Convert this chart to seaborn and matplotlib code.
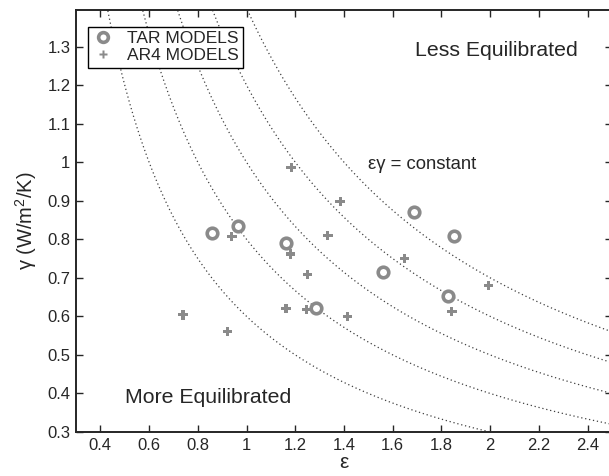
import numpy as np
import pandas as pd
import matplotlib
matplotlib.use('Agg')
import matplotlib.pyplot as plt
from matplotlib.lines import Line2D
from matplotlib.ticker import FuncFormatter, MultipleLocator
import seaborn as sns

# data
tar_eps = [0.857, 0.965, 1.161, 1.286, 1.561, 1.688, 1.850, 1.828]
tar_gam = [0.816, 0.834, 0.791, 0.622, 0.715, 0.872, 0.809, 0.653]
ar4_eps = [0.739, 0.923, 0.940, 1.162, 1.180, 1.183, 1.247, 1.249, 1.334, 1.384, 1.413, 1.648, 1.843, 1.992]
ar4_gam = [0.604, 0.561, 0.807, 0.620, 0.762, 0.987, 0.618, 0.709, 0.809, 0.898, 0.600, 0.750, 0.613, 0.681]
constants = [0.6, 0.8, 1.0, 1.2, 1.4]

sns.set_style('ticks')
plt.rcParams['font.family'] = ['Liberation Sans', 'DejaVu Sans']
plt.rcParams['mathtext.default'] = 'regular'

fig = plt.figure(figsize=(6.09, 4.76), dpi=100)
ax = fig.add_axes([76/609, 44/476, 536/609, 422/476])

grey = '#8a8a8a'
# constant eps*gamma curves
for c in constants:
    xs = np.linspace(0.3, 2.5, 300)
    ax.plot(xs, c / xs, ls=(0, (1, 2.2)), color='0.25', lw=0.9, zorder=1)

tar = pd.DataFrame({'eps': tar_eps, 'gam': tar_gam})
ar4 = pd.DataFrame({'eps': ar4_eps, 'gam': ar4_gam})
sns.scatterplot(data=ar4, x='eps', y='gam', marker='P', s=45, color=grey,
                edgecolor='none', ax=ax, zorder=3)
sns.scatterplot(data=tar, x='eps', y='gam', marker='o', s=58, facecolor='white',
                edgecolor=grey, linewidth=2.6, ax=ax, zorder=4)

ax.set_xlim(0.3, 2.5)
ax.set_ylim(0.3, 1.395)
ax.xaxis.set_major_locator(MultipleLocator(0.2))
ax.yaxis.set_major_locator(MultipleLocator(0.1))
fmt = FuncFormatter(lambda v, p: '%g' % round(v, 3))
ax.xaxis.set_major_formatter(fmt)
ax.yaxis.set_major_formatter(fmt)
ax.tick_params(direction='in', length=5, width=1, labelsize=12, pad=4,
               top=True, right=True)
for sp in ax.spines.values():
    sp.set_linewidth(1.4)

ax.set_xlabel('ε', fontsize=15, labelpad=0)
ax.set_ylabel('γ (W/m$^2$/K)', fontsize=14.5, labelpad=6)

ax.text(1.69, 1.29, 'Less Equilibrated', fontsize=15.3, va='center', ha='left')
ax.text(0.50, 0.39, 'More Equilibrated', fontsize=15.3, va='center', ha='left')
ax.text(1.50, 0.993, 'εγ = constant', fontsize=13.3, va='center', ha='left')

handles = [
    Line2D([], [], ls='none', marker='o', ms=7, mfc='white', mec=grey, mew=2.6),
    Line2D([], [], ls='none', marker='P', ms=6, mfc=grey, mec='none'),
]
leg = ax.legend(handles, ['TAR MODELS', 'AR4 MODELS'], loc='upper left',
                bbox_to_anchor=(0.022, 0.96), borderaxespad=0, fontsize=12.5,
                fancybox=False, framealpha=1, edgecolor='k', handlelength=1.2,
                handletextpad=0.8, borderpad=0.25, labelspacing=0.1)
leg.get_frame().set_linewidth(1.0)

fig.savefig('out.png', dpi=100)
